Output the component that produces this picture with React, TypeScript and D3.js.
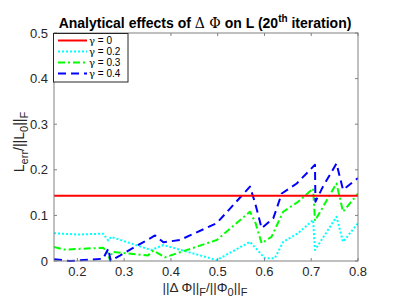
import React, { useEffect, useRef } from 'react';
import * as d3 from 'd3';

// gamma = 0 (flat)
const g0X = [0.15, 0.8];
const g0Y = [0.143, 0.143];

// gamma = 0.2
const g2X = [0.15, 0.2, 0.255, 0.266, 0.272, 0.358, 0.384, 0.498, 0.569, 0.601, 0.622, 0.64, 0.672, 0.704, 0.708, 0.754, 0.768, 0.8];
const g2Y = [0.061, 0.058, 0.06, 0.045, 0.053, 0.024, 0.035, 0.002, 0.042, 0.006, 0.006, 0.042, 0.061, 0.09, 0.024, 0.097, 0.042, 0.083];

// gamma = 0.3
const g3X = [0.15, 0.172, 0.255, 0.264, 0.27, 0.274, 0.351, 0.362, 0.387, 0.498, 0.569, 0.58, 0.594, 0.615, 0.64, 0.672, 0.704, 0.708, 0.754, 0.768, 0.8];
const g3Y = [0.031, 0.025, 0.029, 0.02, 0.001, 0.02, 0.012, 0.023, 0.008, 0.046, 0.108, 0.086, 0.039, 0.053, 0.108, 0.13, 0.159, 0.088, 0.17, 0.108, 0.148];

// gamma = 0.4
const g4X = [0.15, 0.184, 0.255, 0.266, 0.271, 0.291, 0.366, 0.384, 0.419, 0.498, 0.569, 0.58, 0.594, 0.619, 0.637, 0.669, 0.708, 0.709, 0.725, 0.754, 0.768, 0.8];
const g4Y = [0.004, 0.0, 0.005, 0.027, 0.001, 0.012, 0.056, 0.041, 0.046, 0.083, 0.163, 0.127, 0.072, 0.094, 0.148, 0.17, 0.211, 0.13, 0.163, 0.214, 0.156, 0.182];

const xTicks = [0.2, 0.3, 0.4, 0.5, 0.6, 0.7, 0.8];
const yTicks = [0, 0.1, 0.2, 0.3, 0.4, 0.5];
const legendLabels = ['0', '0.2', '0.3', '0.4'];

const FONT = '"Liberation Sans", Arial, Helvetica, sans-serif';

export default function App() {
  const svgRef = useRef<SVGSVGElement>(null);

  useEffect(() => {
    if (!svgRef.current) return;
    const svg = d3.select(svgRef.current);
    svg.selectAll('*').remove();

    const left = 54, right = 358, top = 33, bottom = 261;
    const x = d3.scaleLinear().domain([0.15, 0.8]).range([left, right]);
    const y = d3.scaleLinear().domain([0, 0.5]).range([bottom, top]);

    svg.append('rect').attr('width', 407).attr('height', 308).attr('fill', '#fff');

    const series = [
      { xs: g0X, ys: g0Y, color: '#ff0000', dash: null },
      { xs: g2X, ys: g2Y, color: '#00ffff', dash: '2,2' },
      { xs: g3X, ys: g3Y, color: '#00ff00', dash: '7,3,2,3' },
      { xs: g4X, ys: g4Y, color: '#0000ff', dash: '8,5' },
    ];

    const line = d3.line<[number, number]>()
      .x(d => x(d[0]))
      .y(d => y(d[1]));

    const clip = svg.append('defs').append('clipPath').attr('id', 'clip');
    clip.append('rect').attr('x', left).attr('y', top - 2).attr('width', right - left).attr('height', bottom - top + 4);

    const plot = svg.append('g').attr('clip-path', 'url(#clip)');
    // red drawn last so it sits on top
    [1, 2, 3, 0].forEach(i => {
      const s = series[i];
      const pts = s.xs.map((v, k) => [v, s.ys[k]] as [number, number]);
      const p = plot.append('path')
        .datum(pts)
        .attr('fill', 'none')
        .attr('stroke', s.color)
        .attr('stroke-width', 2)
        .attr('stroke-linejoin', 'round')
        .attr('d', line);
      if (s.dash) p.attr('stroke-dasharray', s.dash);
    });

    // box + ticks
    const axisColor = '#808080';
    const ax = svg.append('g');
    ax.append('rect')
      .attr('x', left).attr('y', top)
      .attr('width', right - left).attr('height', bottom - top)
      .attr('fill', 'none').attr('stroke', axisColor).attr('stroke-width', 1);

    xTicks.forEach(t => {
      ax.append('line').attr('x1', x(t)).attr('x2', x(t)).attr('y1', bottom).attr('y2', bottom - 3)
        .attr('stroke', axisColor);
      ax.append('line').attr('x1', x(t)).attr('x2', x(t)).attr('y1', top).attr('y2', top + 3)
        .attr('stroke', axisColor);
      ax.append('text')
        .attr('x', x(t)).attr('y', 276)
        .attr('text-anchor', 'middle')
        .attr('font-family', FONT).attr('font-size', 13).attr('fill', '#262626')
        .text(d3.format('.1f')(t));
    });

    yTicks.forEach(t => {
      ax.append('line').attr('x1', left).attr('x2', left + 3).attr('y1', y(t)).attr('y2', y(t))
        .attr('stroke', axisColor);
      ax.append('line').attr('x1', right).attr('x2', right - 3).attr('y1', y(t)).attr('y2', y(t))
        .attr('stroke', axisColor);
      ax.append('text')
        .attr('x', 48).attr('y', y(t) + 4.5)
        .attr('text-anchor', 'end')
        .attr('font-family', FONT).attr('font-size', 13).attr('fill', '#262626')
        .text(t === 0 ? '0' : d3.format('.1f')(t));
    });

    // title
    const title = svg.append('text')
      .attr('x', 205).attr('y', 28)
      .attr('text-anchor', 'middle')
      .attr('font-family', FONT).attr('font-size', 14).attr('font-weight', 'bold').attr('fill', '#000');
    title.append('tspan').text('Analytical effects of ');
    title.append('tspan').attr('font-weight', 'normal').attr('font-family', 'DejaVu Serif, serif').text('\u0394 \u03a6');
    title.append('tspan').text(' on L (20');
    title.append('tspan').attr('font-size', 10).attr('dy', -6).text('th');
    title.append('tspan').attr('dy', 6).text(' iteration)');

    // x label
    const xl = svg.append('text')
      .attr('x', 205).attr('y', 292)
      .attr('text-anchor', 'middle')
      .attr('font-family', FONT).attr('font-size', 13.5).attr('fill', '#262626');
    xl.append('tspan').text('||\u0394 \u03a6||');
    xl.append('tspan').attr('font-size', 11).attr('dy', 4).text('F');
    xl.append('tspan').attr('dy', -4).text('/||\u03a6');
    xl.append('tspan').attr('font-size', 11).attr('dy', 4).text('0');
    xl.append('tspan').attr('dy', -4).text('||');
    xl.append('tspan').attr('font-size', 11).attr('dy', 4).text('F');

    // y label
    const yl = svg.append('text')
      .attr('transform', 'translate(24,142) rotate(-90)')
      .attr('text-anchor', 'middle')
      .attr('font-family', FONT).attr('font-size', 14).attr('fill', '#262626');
    yl.append('tspan').text('L');
    yl.append('tspan').attr('font-size', 11).attr('dy', 4).text('err');
    yl.append('tspan').attr('dy', -4).text('/||L');
    yl.append('tspan').attr('font-size', 11).attr('dy', 4).text('0');
    yl.append('tspan').attr('dy', -4).text('||');
    yl.append('tspan').attr('font-size', 11).attr('dy', 4).text('F');

    // legend
    const lg = svg.append('g');
    lg.append('rect')
      .attr('x', 53.5).attr('y', 33.5).attr('width', 74.5).attr('height', 48.5)
      .attr('fill', '#fff').attr('stroke', '#262626').attr('stroke-width', 1);
    series.forEach((s, i) => {
      const ly = 40.5 + i * 11;
      const l = lg.append('line')
        .attr('x1', 58).attr('x2', 87).attr('y1', ly).attr('y2', ly)
        .attr('stroke', s.color).attr('stroke-width', 2);
      if (s.dash) l.attr('stroke-dasharray', s.dash);
      const t = lg.append('text')
        .attr('x', 89).attr('y', ly + 3.5)
        .attr('font-family', FONT).attr('font-size', 10).attr('fill', '#000');
      t.append('tspan').attr('font-family', 'DejaVu Serif, serif').text('\u03b3');
      t.append('tspan').text(' = ' + legendLabels[i]);
    });
  }, []);

  return (
    <svg
      ref={svgRef}
      width={407}
      height={308}
      style={{ position: 'absolute', left: 0, top: 0, display: 'block' }}
    />
  );
}
